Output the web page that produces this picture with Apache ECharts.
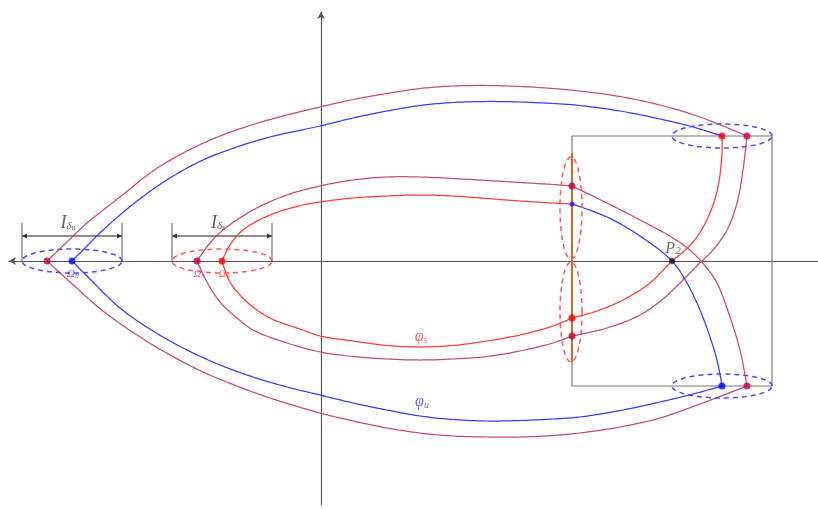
<!DOCTYPE html>
<html><head><meta charset="utf-8">
<script src="https://cdn.jsdelivr.net/npm/echarts@6/dist/echarts.min.js"></script>
<style>html,body{margin:0;padding:0;background:#fff}#c{width:818px;height:509px}</style>
</head><body><div id="c"></div>
<script>
// Curves (x, y) in the diagram's own coordinates (origin at axis crossing), split at corner points
const purpleOuterTop = [[-274,0],[-254,19],[-234,38],[-201,64],[-168,90],[-134,110],[-101,125],[-68,136.5],[-34,146],[-1,154],[32,161.5],[66,167.5],[99,172.5],[132,175],[166,175.5],[199,174.5],[232,172.5],[259,170],[299,164.5],[339,156],[379,144],[426,125]];
const purpleRightDown = [[426,125],[422,91],[416,58],[406,31],[392,11],[379,-2],[362,-19],[342,-38],[319,-54],[286,-67],[251,-75]];
const purpleInnerBottom = [[251,-75],[232,-82],[199,-90],[166,-95.5],[132,-98],[99,-99],[66,-98],[32,-95.5],[-1,-91],[-34,-82],[-68,-69],[-84,-57],[-101,-41],[-114,-21],[-124,0]];
const purpleOuterBottom = [[-274,0],[-251,-21],[-218,-50],[-184,-74],[-151,-94],[-118,-111],[-84,-125],[-51,-137],[-1,-152],[32,-160],[66,-167],[99,-172],[132,-175],[166,-176],[199,-176],[232,-174.5],[259,-172],[299,-166],[339,-157],[379,-143],[426,-125]];
const purpleRightUp = [[426,-125],[419,-89],[409,-56],[396,-22],[385,-6],[370,10],[352,23],[319,41],[286,58],[251,75]];
const purpleInnerTop = [[251,75],[232,76.5],[199,78.5],[166,80.5],[132,82.5],[99,84],[66,84],[32,81],[-1,75],[-34,66],[-68,51],[-98,31],[-111,18],[-124,0]];
const blueTop = [[-249,0],[-234,15],[-218,31],[-184,60],[-151,83],[-118,101],[-84,114],[-51,124],[-1,135],[32,143],[66,150],[99,155.5],[132,158.5],[166,159.5],[199,159],[232,157.5],[259,155.5],[299,150],[339,142],[372,134],[401,125]];
const redRightDown = [[401,125],[401,108],[397,74],[389,48],[376,24],[362,9],[351,0],[329,-22],[302,-39],[276,-50],[251,-57]];
const redInnerBottom = [[251,-57],[232,-65],[199,-74],[166,-80],[132,-84.5],[99,-86],[66,-84.5],[32,-80],[-1,-75],[-18,-69],[-51,-57],[-74,-41],[-91,-21],[-99,0]];
const redInnerTop = [[-99,0],[-91,16],[-78,31],[-51,46],[-18,56],[-1,59],[32,63],[66,65],[99,66],[132,65],[166,62.5],[199,60],[232,58],[251,57]];
const blueRightDown = [[251,57],[286,44],[319,25],[351,0],[366,-22],[379,-49],[389,-76],[396,-99],[401,-125]];
const blueBottom = [[401,-125],[372,-133],[339,-141],[302,-149],[259,-156],[232,-158],[199,-159.5],[166,-160],[132,-158.5],[99,-155],[66,-149],[32,-142],[-1,-134],[-34,-126],[-68,-116],[-101,-104],[-134,-89],[-168,-70],[-201,-47],[-234,-15],[-249,0]];
// Marked points
const purplePoints = [[-274,0],[-124,0],[426,125],[251,75],[251,-75],[426,-125]];
const redPoints = [[-99,0],[401,125],[251,-57]];
const bluePoints = [[-249,0],[401,-125]];
const blueSmallPoints = [[251,57]];
const blackPoints = [[351,0]];
// Box and section
const boxPath = [[251,125],[451,125],[451,-125],[251,-125],[251,125]];
const sectionSegment = [[251,108],[251,-101]];
// Neighbourhoods: [cx, cy, rx, ry]
const blueEllipses = [[-249,0,50,12],[401,125,50,12],[401,-125,50,12]];
const redEllipses = [[-99,0,50,12],[250,53,11,51],[250,-51,11,50]];
// Intervals: [x1, x2, yLine, yBottom, yTop]
const intervals = [[-299,-199,25,0,38],[-149,-49,25,0,38]];

const PURPLE='#c84a74', RED='#ff3b3b', BLUE='#3b3bff';
const serif = "'Liberation Serif','DejaVu Serif',serif";

// centripetal Catmull-Rom through screen points
function spline(P){
  const out=[];
  const n=P.length;
  for(let i=0;i<n-1;i++){
    const p0=P[Math.max(i-1,0)], p1=P[i], p2=P[i+1], p3=P[Math.min(i+2,n-1)];
    const d=(a,b)=>Math.max(Math.pow(Math.hypot(b[0]-a[0],b[1]-a[1]),0.5),1e-4);
    const t0=0, t1=t0+(p0===p1?1e-4:d(p0,p1)), t2=t1+d(p1,p2), t3=t2+(p2===p3?1e-4:d(p2,p3));
    const steps=14;
    for(let s=0;s<steps;s++){
      const t=t1+(t2-t1)*s/steps;
      const lerp=(a,b,ta,tb)=>{const u=(tb-t)/(tb-ta), v=(t-ta)/(tb-ta); return [a[0]*u+b[0]*v, a[1]*u+b[1]*v];};
      const A1=lerp(p0,p1,t0,t1), A2=lerp(p1,p2,t1,t2), A3=lerp(p2,p3,t2,t3);
      const B1=lerp(A1,A2,t0,t2), B2=lerp(A2,A3,t1,t3);
      out.push(lerp(B1,B2,t1,t2));
    }
  }
  out.push(P[n-1]);
  return out;
}
function curve(data, color){
  return {type:'custom', data, clip:false, z:3, silent:true, animation:false,
    renderItem:function(params, api){
      if(params.dataIndex!==0) return null;
      const pts=data.map(p=>api.coord(p));
      return {type:'polyline', shape:{points:spline(pts)}, style:{stroke:color, fill:'none', lineWidth:1.25}};
    }};
}
function dots(data, color, size){
  return {type:'scatter', data, symbolSize:size, itemStyle:{color}, z:10, silent:true, animation:false};
}
function ellipseSeries(data, color){
  return {type:'custom', data, clip:false, z:4, silent:true, animation:false,
    renderItem:function(params, api){
      const cx=api.value(0), cy=api.value(1), rx=api.value(2), ry=api.value(3);
      const pts=[];
      for(let k=0;k<=96;k++){const a=k/96*2*Math.PI; pts.push(api.coord([cx+rx*Math.cos(a), cy+ry*Math.sin(a)]));}
      return {type:'polyline', shape:{points:pts}, style:{stroke:color, fill:'none', lineWidth:1.5, lineDash:[5,4]}};
    }};
}
function intervalSeries(data){
  return {type:'custom', data, clip:false, z:2, silent:true, animation:false,
    renderItem:function(params, api){
      const x1=api.value(0), x2=api.value(1), y=api.value(2), yb=api.value(3), yt=api.value(4);
      const a=api.coord([x1,yb]), b=api.coord([x1,yt]), c=api.coord([x2,yb]), d=api.coord([x2,yt]);
      const l=api.coord([x1,y]), r=api.coord([x2,y]);
      const st={stroke:'#888', lineWidth:1.4};
      return {type:'group', children:[
        {type:'line', shape:{x1:a[0],y1:a[1],x2:b[0],y2:b[1]}, style:st},
        {type:'line', shape:{x1:c[0],y1:c[1],x2:d[0],y2:d[1]}, style:st},
        {type:'line', shape:{x1:l[0],y1:l[1],x2:r[0],y2:r[1]}, style:{stroke:'#666', lineWidth:1.3}},
        {type:'polygon', shape:{points:[[l[0],l[1]],[l[0]+5,l[1]-2.5],[l[0]+5,l[1]+2.5]]}, style:{fill:'#333'}},
        {type:'polygon', shape:{points:[[r[0],r[1]],[r[0]-5,r[1]-2.5],[r[0]-5,r[1]+2.5]]}, style:{fill:'#333'}}
      ]};
    }};
}
function textSeries(pos, text, rich){
  return {type:'scatter', data:[pos], symbolSize:0, z:12, silent:true, animation:false,
    label:{show:true, position:'inside', formatter:text, rich}};
}
const sub = (c, fs, fsub, pad) => ({
  m:{fontFamily:serif, fontStyle:'italic', fontSize:fs, color:c, verticalAlign:'bottom', lineHeight:fs+4},
  s:{fontFamily:serif, fontStyle:'italic', fontSize:fsub, color:c, verticalAlign:'bottom', lineHeight:fs+4, padding:[pad,0,0,0]},
  t:{fontFamily:serif, fontStyle:'italic', fontSize:Math.round(fsub*0.75), color:c, verticalAlign:'bottom', lineHeight:fs+4, padding:[pad+4,0,0,0]}
});

const option = {
  animation:false,
  backgroundColor:'#fff',
  grid:{left:9, right:0, top:12, bottom:4, containLabel:false},
  xAxis:{type:'value', min:-312, max:497, axisLine:{onZero:true, symbol:['arrow','none'], symbolSize:[6,7], lineStyle:{color:'#555', width:1.2}}, axisTick:{show:false}, axisLabel:{show:false}, splitLine:{show:false}},
  yAxis:{type:'value', min:-244, max:249, axisLine:{onZero:true, symbol:['none','arrow'], symbolSize:[6,7], lineStyle:{color:'#555', width:1.2}}, axisTick:{show:false}, axisLabel:{show:false}, splitLine:{show:false}},
  series:[
    {type:'line', data:boxPath, symbol:'none', lineStyle:{color:'#777', width:1.2}, z:1, silent:true},
    {type:'line', data:sectionSegment, symbol:'none', lineStyle:{color:'#b8743a', width:2.2}, z:2, silent:true},
    intervalSeries(intervals),
    curve(purpleOuterTop, PURPLE), curve(purpleRightDown, PURPLE), curve(purpleInnerBottom, PURPLE),
    curve(purpleOuterBottom, PURPLE), curve(purpleRightUp, PURPLE), curve(purpleInnerTop, PURPLE),
    curve(blueTop, BLUE), curve(redRightDown, RED), curve(redInnerBottom, RED),
    curve(redInnerTop, RED), curve(blueRightDown, BLUE), curve(blueBottom, BLUE),
    ellipseSeries(blueEllipses, '#4a4aff'),
    ellipseSeries(redEllipses, '#ff5a5a'),
    dots(purplePoints, '#c2003e', 7),
    dots(redPoints, '#ff0000', 7),
    dots(bluePoints, '#0000ff', 7),
    dots(blueSmallPoints, '#2020ff', 5),
    dots(blackPoints, '#111', 6),
    textSeries([-253,40], '{m|I}{s|δ}{t|u}', sub('#333',18,11,6)),
    textSeries([-103,40], '{m|I}{s|δ}{t|s}', sub('#333',18,11,6)),
    textSeries([-248,-11], '{m|Ω}{s|u}', sub(BLUE,11,8,3)),
    textSeries([-122,-11], '{m|Ω}{s|s}', sub(PURPLE,11,8,3)),
    textSeries([-97,-11], '{m|Ω}{s|s}', sub(RED,11,8,3)),
    textSeries([352,14], '{m|P}{s|2}', sub('#444',16,11,5)),
    textSeries([100,-74], '{m|φ}{s|s}', sub(RED,16,10,5)),
    textSeries([101,-139], '{m|φ}{s|u}', sub(BLUE,16,10,5))
  ]
};
const chart = echarts.init(document.getElementById('c'), null, {renderer:'canvas'});
chart.setOption(option);
</script>
</body></html>
